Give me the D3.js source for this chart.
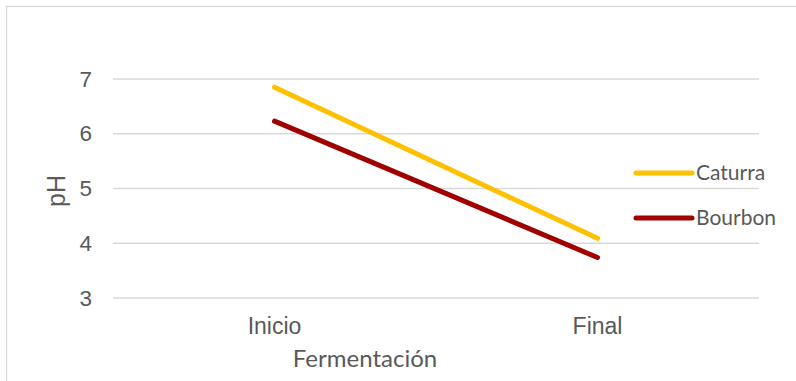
<!DOCTYPE html>
<html>
<head>
<meta charset="utf-8">
<script src="https://cdn.jsdelivr.net/npm/d3@7"></script>
<style>
  html, body { margin: 0; padding: 0; background: #fff; }
  svg { display: block; }
</style>
</head>
<body>
<svg id="chart" width="796" height="381"></svg>
<script>
// pH of the coffee varieties at the start and end of fermentation
const stages = ["Inicio", "Final"];
const caturra = [6.85, 4.09];
const bourbon = [6.23, 3.74];
const yTicks = [3, 4, 5, 6, 7];
const seriesNames = ["Caturra", "Bourbon"];
const seriesColors = ["#FFC000", "#A00000"];

const W = 796, H = 381;
const plot = { left: 113, right: 759, top: 79, bottom: 298 };
const textColor = "#595959";
const gridColor = "#d9d9d9";

const svg = d3.select("#chart");

// chart area frame (runs past the right and bottom edges)
svg.append("rect")
  .attr("x", 6.5).attr("y", 6.5)
  .attr("width", W + 20).attr("height", H + 20)
  .attr("fill", "#fff")
  .attr("stroke", gridColor).attr("stroke-width", 1.3);

const x = d3.scaleBand().domain(stages).range([plot.left, plot.right]);
const y = d3.scaleLinear().domain([3, 7]).range([plot.bottom, plot.top]);

// horizontal gridlines
svg.append("g")
  .selectAll("line")
  .data(yTicks)
  .join("line")
  .attr("x1", plot.left).attr("x2", plot.right)
  .attr("y1", d => y(d)).attr("y2", d => y(d))
  .attr("stroke", gridColor).attr("stroke-width", 1.5);

// y axis labels
const yAxis = svg.append("g")
  .attr("transform", `translate(${plot.left - 21},0)`)
  .call(d3.axisLeft(y).tickValues(yTicks).tickSize(0).tickPadding(0).tickFormat(d3.format("d")));
yAxis.select(".domain").remove();
yAxis.selectAll("text")
  .attr("fill", textColor)
  .style("font-family", "'Liberation Sans', Arial, sans-serif")
  .style("font-size", "22.5px");

// x axis labels
const xAxis = svg.append("g")
  .attr("transform", `translate(0,${plot.bottom})`)
  .call(d3.axisBottom(x).tickSize(0).tickPadding(0));
xAxis.select(".domain").remove();
xAxis.selectAll("text")
  .attr("fill", textColor)
  .attr("dy", null)
  .attr("y", 36)
  .style("font-family", "'Liberation Sans', Arial, sans-serif")
  .style("font-size", "23px");

// axis titles
svg.append("text")
  .attr("x", 365).attr("y", 367)
  .attr("text-anchor", "middle")
  .attr("fill", textColor)
  .style("font-family", "Lato, 'Open Sans', sans-serif")
  .style("font-size", "24px")
  .text("Fermentación");

svg.append("text")
  .attr("transform", "translate(65,191) rotate(-90)")
  .attr("text-anchor", "middle")
  .attr("fill", textColor)
  .style("font-family", "'Liberation Sans', Arial, sans-serif")
  .style("font-size", "25px")
  .text("pH");

// series lines
const series = [caturra, bourbon];
const line = d3.line()
  .x((d, i) => x(stages[i]) + x.bandwidth() / 2)
  .y(d => y(d));

svg.append("g")
  .selectAll("path")
  .data(series)
  .join("path")
  .attr("d", d => line(d))
  .attr("fill", "none")
  .attr("stroke", (d, i) => seriesColors[i])
  .attr("stroke-width", 5)
  .attr("stroke-linecap", "round");

// legend
const legendY = [173, 218];
const legend = svg.append("g")
  .selectAll("g")
  .data(seriesNames)
  .join("g")
  .attr("transform", (d, i) => `translate(636,${legendY[i]})`);
legend.append("line")
  .attr("x1", 0).attr("x2", 56)
  .attr("y1", 0).attr("y2", 0)
  .attr("stroke", (d, i) => seriesColors[i])
  .attr("stroke-width", 5)
  .attr("stroke-linecap", "round");
legend.append("text")
  .attr("x", 60).attr("y", 0)
  .attr("dy", "0.35em")
  .attr("fill", textColor)
  .style("font-family", "Lato, 'Open Sans', sans-serif")
  .style("font-size", "21px")
  .text(d => d);
</script>
</body>
</html>
